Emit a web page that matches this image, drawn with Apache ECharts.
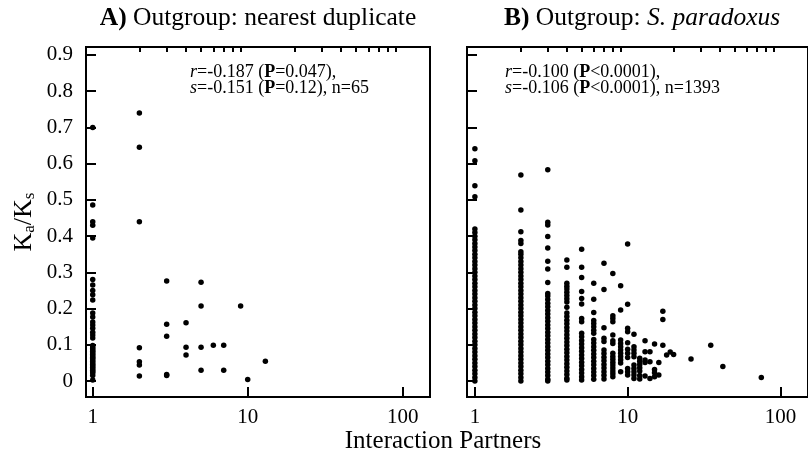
<!DOCTYPE html>
<html>
<head>
<meta charset="utf-8">
<script src="https://cdn.jsdelivr.net/npm/echarts@6/dist/echarts.min.js"></script>
<style>
html,body{margin:0;padding:0;background:#fff;}
#c{width:808px;height:458px;}
</style>
</head>
<body>
<div id="c"></div>
<script>
// ---------- DATA ----------
// Panel A: Outgroup nearest duplicate (x = interaction partners, values = Ka/Ks)
const A_partners = [1, 2, 3, 4, 5, 6, 7, 9, 10, 13];
const A_values = [
  [0.70, 0.486, 0.44, 0.43, 0.395, 0.28, 0.265, 0.25, 0.238, 0.224, 0.188, 0.177, 0.163, 0.155, 0.146, 0.135, 0.127, 0.119,
   0.098, 0.094, 0.09, 0.086, 0.082, 0.078, 0.074, 0.07, 0.066, 0.062, 0.058, 0.054, 0.05, 0.046, 0.042, 0.038, 0.034, 0.03, 0.026, 0.022, 0.015, 0.003],
  [0.74, 0.645, 0.44, 0.092, 0.053, 0.044, 0.014],
  [0.276, 0.157, 0.124, 0.018, 0.015],
  [0.161, 0.093, 0.072],
  [0.273, 0.207, 0.093, 0.030],
  [0.099],
  [0.099, 0.030],
  [0.207],
  [0.004],
  [0.055]
];
// Panel B: Outgroup S. paradoxus
const B_partners = [1, 2, 3, 4, 5, 6, 7, 8, 9, 10, 11, 12, 13, 14, 15, 16, 17, 18, 19, 20, 26, 35, 42, 75];
const B_values = [
  [0.641, 0.608, 0.539, 0.509, 0.42, 0.41, 0.40, 0.39, 0.38, 0.37, 0.36, 0.35, 0.34, 0.33, 0.32, 0.31, 0.30, 0.29, 0.28, 0.27, 0.26, 0.25,
   0.24, 0.23, 0.22, 0.21, 0.20, 0.19, 0.18, 0.17, 0.16, 0.15, 0.14, 0.13, 0.12, 0.11, 0.10, 0.09, 0.08, 0.07, 0.06, 0.05,
   0.04, 0.03, 0.02, 0.01, 0.00],
  [0.569, 0.472, 0.412, 0.388, 0.38, 0.357, 0.35, 0.34, 0.33, 0.32, 0.31, 0.30, 0.29, 0.28, 0.27, 0.26, 0.25, 0.24, 0.23, 0.22,
   0.21, 0.20, 0.19, 0.18, 0.17, 0.16, 0.15, 0.14, 0.13, 0.12, 0.11, 0.10, 0.09, 0.08, 0.07, 0.06, 0.05, 0.04, 0.03, 0.02, 0.01, 0.00],
  [0.583, 0.438, 0.431, 0.399, 0.367, 0.331, 0.309, 0.272, 0.242, 0.235, 0.225, 0.215, 0.205, 0.195, 0.185, 0.175, 0.165, 0.155,
   0.145, 0.135, 0.125, 0.115, 0.105, 0.095, 0.085, 0.075, 0.065, 0.055, 0.045, 0.035, 0.025, 0.015, 0.005, 0.0],
  [0.334, 0.314, 0.27, 0.262, 0.254, 0.245, 0.236, 0.227, 0.218, 0.204, 0.188, 0.178, 0.168, 0.158, 0.148, 0.138, 0.128, 0.118,
   0.108, 0.098, 0.088, 0.078, 0.068, 0.058, 0.048, 0.038, 0.028, 0.018, 0.008, 0.003],
  [0.364, 0.314, 0.286, 0.247, 0.228, 0.213, 0.173, 0.164, 0.132, 0.122, 0.112, 0.102, 0.092, 0.082, 0.072, 0.062, 0.052, 0.042,
   0.032, 0.022, 0.012, 0.003],
  [0.27, 0.226, 0.189, 0.167, 0.159, 0.15, 0.14, 0.132, 0.115, 0.105, 0.095, 0.085, 0.075, 0.065, 0.055, 0.045, 0.035, 0.025, 0.015, 0.005],
  [0.325, 0.253, 0.147, 0.118, 0.109, 0.086, 0.076, 0.066, 0.056, 0.046, 0.036, 0.026, 0.016, 0.006],
  [0.297, 0.18, 0.173, 0.164, 0.127, 0.111, 0.104, 0.077, 0.068, 0.06, 0.052, 0.044, 0.036, 0.028, 0.02, 0.012],
  [0.263, 0.196, 0.113, 0.104, 0.095, 0.086, 0.077, 0.068, 0.059, 0.05, 0.026],
  [0.378, 0.212, 0.146, 0.136, 0.106, 0.088, 0.077, 0.065, 0.035, 0.026, 0.017],
  [0.129, 0.095, 0.086, 0.077, 0.067, 0.044, 0.035, 0.026, 0.017, 0.007],
  [0.063, 0.055, 0.046, 0.037, 0.028, 0.015, 0.006],
  [0.111, 0.081, 0.058, 0.051, 0.014],
  [0.081, 0.053, 0.007],
  [0.102, 0.032, 0.023, 0.012],
  [0.051, 0.017],
  [0.193, 0.17, 0.099],
  [0.072],
  [0.08],
  [0.073],
  [0.061],
  [0.099],
  [0.04],
  [0.01]
];
const xMajorTicks = [1, 10, 100];
const xMinorTicks = [2, 3, 4, 5, 6, 7, 8, 9, 20, 30, 40, 50, 60, 70, 80, 90];
const yTicks = [0, 0.1, 0.2, 0.3, 0.4, 0.5, 0.6, 0.7, 0.8, 0.9];

// ---------- BUILD ----------
function pairs(xs, vals) {
  const out = [];
  xs.forEach((x, i) => vals[i].forEach(v => out.push([x, v])));
  return out;
}
const FONT = '"Liberation Serif", "DejaVu Serif", serif';
const grids = [
  { left: 86, top: 47, width: 344, height: 350 },
  { left: 467, top: 47, width: 346, height: 350 }
];
const xRanges = [[0.905, 150], [0.888, 151.6]];

const xAxes = [], yAxes = [];
grids.forEach((g, gi) => {
  xAxes.push({
    type: 'log', logBase: 10, gridIndex: gi, min: xRanges[gi][0], max: xRanges[gi][1],
    axisLine: { show: true, onZero: false, lineStyle: { color: '#000', width: 2 } },
    axisTick: { show: true, inside: true, length: 10, customValues: xMajorTicks, lineStyle: { color: '#000', width: 2 } },
    axisLabel: { show: true, customValues: xMajorTicks, margin: 10, color: '#000', fontFamily: FONT, fontSize: 21,
      formatter: v => String(Math.round(v)) },
    splitLine: { show: false }, minorTick: { show: false }
  });
  xAxes.push({
    type: 'log', logBase: 10, gridIndex: gi, min: xRanges[gi][0], max: xRanges[gi][1],
    axisLine: { show: false, onZero: false },
    axisTick: { show: true, inside: true, length: 5, customValues: xMinorTicks, lineStyle: { color: '#000', width: 2 } },
    axisLabel: { show: false },
    splitLine: { show: false }
  });
  yAxes.push({
    type: 'value', gridIndex: gi, min: -0.044, max: 0.922,
    axisLine: { show: true, onZero: false, lineStyle: { color: '#000', width: 2 } },
    axisTick: { show: true, inside: true, length: 10, customValues: yTicks, lineStyle: { color: '#000', width: 2 } },
    axisLabel: { show: gi === 0, customValues: yTicks, margin: 13, color: '#000', fontFamily: FONT, fontSize: 21,
      formatter: v => (Math.abs(v) < 1e-9 ? '0' : v.toFixed(1)) },
    splitLine: { show: false },
    name: gi === 0 ? 'K{s|a}/K{s|s}' : '',
    nameLocation: 'middle', nameRotate: 90, nameGap: 48,
    nameTextStyle: { color: '#000', fontFamily: FONT, fontSize: 26,
      rich: { s: { fontSize: 17, fontFamily: FONT, color: '#000', padding: [11, 0, 0, 0] } } }
  });
});

const gridOpts = grids.map(g => Object.assign({ show: true, borderColor: '#000', borderWidth: 2, backgroundColor: 'transparent' }, g));

const annRich = {
  i: { fontFamily: FONT, fontStyle: 'italic', fontSize: 18, color: '#000' },
  b: { fontFamily: FONT, fontWeight: 'bold', fontSize: 18, color: '#000' },
  n: { fontFamily: FONT, fontSize: 18, color: '#000' }
};
const titleRich = {
  b: { fontFamily: FONT, fontWeight: 'bold', fontSize: 25.5, color: '#000' },
  n: { fontFamily: FONT, fontSize: 25.5, color: '#000' },
  i: { fontFamily: FONT, fontStyle: 'italic', fontSize: 25.5, color: '#000' }
};

const option = {
  animation: false,
  backgroundColor: '#fff',
  grid: gridOpts,
  xAxis: xAxes,
  yAxis: yAxes,
  series: [
    { type: 'scatter', xAxisIndex: 0, yAxisIndex: 0, data: pairs(A_partners, A_values), symbolSize: 5.5,
      itemStyle: { color: '#000', opacity: 1 } },
    { type: 'scatter', xAxisIndex: 2, yAxisIndex: 1, data: pairs(B_partners, B_values), symbolSize: 5.5,
      itemStyle: { color: '#000', opacity: 1 } }
  ],
  graphic: [
    { type: 'text', x: 258, y: 18, style: { text: '{b|A)}{n| Outgroup: nearest duplicate}', rich: titleRich, align: 'center', verticalAlign: 'middle' } },
    { type: 'text', x: 642, y: 18, style: { text: '{b|B)}{n| Outgroup: }{i|S. paradoxus}', rich: titleRich, align: 'center', verticalAlign: 'middle' } },
    { type: 'text', x: 190, y: 72, style: { text: '{i|r}{n|=-0.187 (}{b|P}{n|=0.047),}', rich: annRich, align: 'left', verticalAlign: 'middle' } },
    { type: 'text', x: 190, y: 88, style: { text: '{i|s}{n|=-0.151 (}{b|P}{n|=0.12), n=65}', rich: annRich, align: 'left', verticalAlign: 'middle' } },
    { type: 'text', x: 505, y: 72, style: { text: '{i|r}{n|=-0.100 (}{b|P}{n|<0.0001),}', rich: annRich, align: 'left', verticalAlign: 'middle' } },
    { type: 'text', x: 505, y: 88, style: { text: '{i|s}{n|=-0.106 (}{b|P}{n|<0.0001), n=1393}', rich: annRich, align: 'left', verticalAlign: 'middle' } },
    { type: 'text', x: 443, y: 441, style: { text: 'Interaction Partners', fontFamily: FONT, fontSize: 25, fill: '#000', align: 'center', verticalAlign: 'middle' } }
  ]
};
const chart = echarts.init(document.getElementById('c'), null, { renderer: 'canvas' });
chart.setOption(option);
</script>
</body>
</html>
